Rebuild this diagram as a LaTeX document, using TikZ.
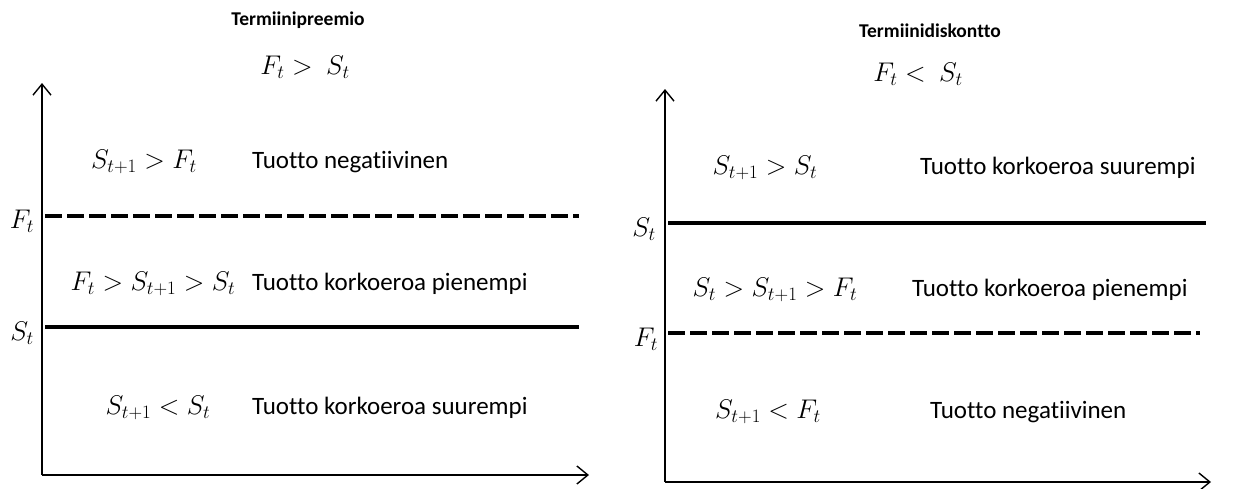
\RequirePackage{fix-cm}
\documentclass[tikz,border=0pt]{standalone}
\usepackage{fontspec}
\setmainfont[Ligatures=NoCommon]{Carlito}
\usetikzlibrary{arrows.meta}
\tikzset{
  axis/.style={line width=1.4pt,-{Straight Barb[length=11pt,width=18pt,line width=1.4pt]}},
  solidlevel/.style={line width=4.5pt},
  dashlevel/.style={line width=4.5pt,dash pattern=on 17pt off 5pt},
  txt/.style={font=\fontsize{25}{30}\selectfont,inner sep=0pt,anchor=base west},
  mth/.style={font=\fontsize{27}{32}\selectfont,inner sep=0pt,anchor=base},
  ttl/.style={font=\fontsize{19.5}{24}\selectfont\bfseries,inner sep=0pt,anchor=base},
  lbl/.style={font=\fontsize{27}{32}\selectfont,inner sep=0pt,anchor=center}
}
\begin{document}
\begin{tikzpicture}[x=1pt,y=-1pt]
\useasboundingbox (0,0) rectangle (1235,488);
% ---------- left panel ----------
\coordinate (LO) at (42,475);
\coordinate (LY) at (42,83);
\coordinate (LX) at (589,475);
\coordinate (LF0) at (45,216);
\coordinate (LF1) at (579,216);
\coordinate (LS0) at (45,327);
\coordinate (LS1) at (579,327);
\draw[axis] (LO) -- (LY);
\draw[axis] (LO) -- (LX);
\draw[dashlevel] (LF0) -- (LF1);
\draw[solidlevel] (LS0) -- (LS1);
\node[ttl] (lt) at (298,25) {Termiinipreemio};
\node[mth] (lc) at (305,74) {$F_t >\ S_t$};
\node[lbl] (lfl) at (22,221) {$F_t$};
\node[lbl] (lsl) at (22,333) {$S_t$};
\node[mth] (l1m) at (144,168) {$S_{t+1} > F_t$};
\node[txt] (l1t) at (252,168) {Tuotto negatiivinen};
\node[mth] (l2m) at (153,290) {$F_t > S_{t+1} > S_t$};
\node[txt] (l2t) at (252,290) {Tuotto korkoeroa pienempi};
\node[mth] (l3m) at (158,414) {$S_{t+1} < S_t$};
\node[txt] (l3t) at (252,414) {Tuotto korkoeroa suurempi};
% ---------- right panel ----------
\coordinate (RO) at (665,482);
\coordinate (RY) at (665,89);
\coordinate (RX) at (1211,482);
\coordinate (RS0) at (668,223);
\coordinate (RS1) at (1206,223);
\coordinate (RF0) at (668,333);
\coordinate (RF1) at (1200,333);
\draw[axis] (RO) -- (RY);
\draw[axis] (RO) -- (RX);
\draw[solidlevel] (RS0) -- (RS1);
\draw[dashlevel] (RF0) -- (RF1);
\node[ttl] (rt) at (930,37) {Termiinidiskontto};
\node[mth] (rc) at (918,81) {$F_t <\ S_t$};
\node[lbl] (rsl) at (644,229) {$S_t$};
\node[lbl] (rfl) at (646,339) {$F_t$};
\node[mth] (r1m) at (765,174) {$S_{t+1} > S_t$};
\node[txt] (r1t) at (920,174) {Tuotto korkoeroa suurempi};
\node[mth] (r2m) at (775,296) {$S_t > S_{t+1} > F_t$};
\node[txt] (r2t) at (912,296) {Tuotto korkoeroa pienempi};
\node[mth] (r3m) at (768,418) {$S_{t+1} < F_t$};
\node[txt] (r3t) at (930,418) {Tuotto negatiivinen};
\end{tikzpicture}
\end{document}
